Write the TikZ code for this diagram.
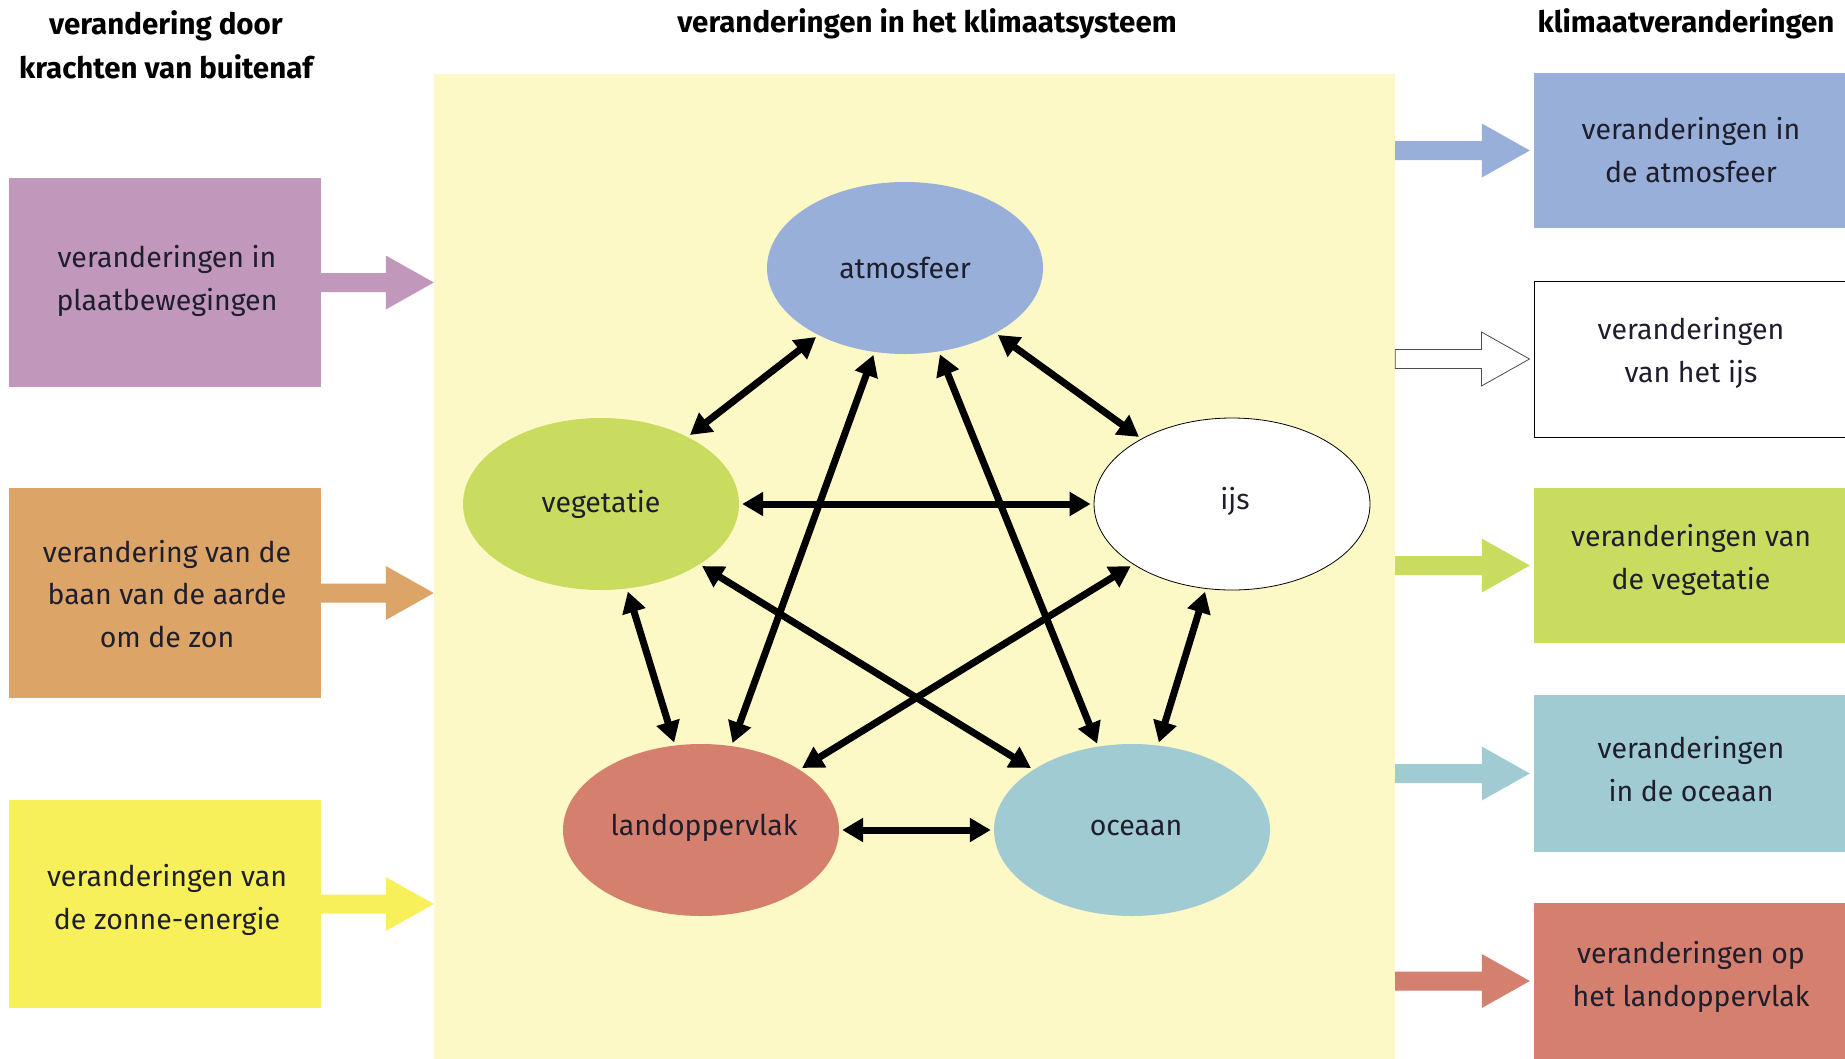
\documentclass[tikz,border=0pt]{standalone}
\usepackage{fontspec}
\setmainfont{Fira Sans}
\usetikzlibrary{shapes.geometric,arrows.meta,calc}
\definecolor{bgsys}{HTML}{FCF9C7}
\definecolor{cpurp}{HTML}{C297BC}
\definecolor{corange}{HTML}{DDA468}
\definecolor{cyellow}{HTML}{F8F05A}
\definecolor{cblue}{HTML}{97AFD9}
\definecolor{cgreen}{HTML}{C9DC5F}
\definecolor{cocean}{HTML}{A1CBD2}
\definecolor{cland}{HTML}{D5806F}
\definecolor{ctext}{HTML}{1E1E2C}
\tikzset{
  title/.style={font=\fontsize{29.5}{43.5}\selectfont\bfseries, text=black, align=center, inner sep=0pt},
  body/.style={font=\fontsize{28.5}{42.5}\selectfont, text=ctext, align=center, inner sep=0pt},
  box/.style={rectangle, draw=none, inner sep=0pt, minimum width=312pt},
  rbox/.style={rectangle, draw=none, inner sep=0pt, minimum width=312pt},
  comp/.style={ellipse, draw=none, inner sep=0pt, minimum width=276pt, minimum height=172pt},
  link/.style={line width=7pt, {Triangle[length=21pt,width=23pt]}-{Triangle[length=21pt,width=23pt]}, shorten <=3pt, shorten >=3pt},
}
\newcommand\fatarr[3]{%
  \path[#1] let \p1=(#2), \p2=(#3) in
    (\x1,\y1+9.5pt) -- (\x2-48pt,\y1+9.5pt) -- (\x2-48pt,\y1+27pt) -- (\x2,\y1)
    -- (\x2-48pt,\y1-27pt) -- (\x2-48pt,\y1-9.5pt) -- (\x1,\y1-9.5pt) -- cycle;}
\begin{document}
\begin{tikzpicture}[x=1pt,y=-1pt]
\useasboundingbox[fill=white] (0,0) rectangle (1845,1058);
% system background
\node[rectangle, fill=bgsys, inner sep=0pt, minimum width=961pt, minimum height=990pt] (sys) at (914.5,569) {};
% titles
\node[title] (t1) at (166,45) {verandering door\\krachten van buitenaf};
\node[title] (t2) at (927,24) {veranderingen in het klimaatsysteem};
\node[title] (t3) at (1686,24) {klimaatveranderingen};
% left boxes
\node[box, fill=cpurp, minimum height=209pt] (plaat) at (165,282.5) {};
\node[box, fill=corange, minimum height=210pt] (baan) at (165,593) {};
\node[box, fill=cyellow, minimum height=208pt] (zon) at (165,904) {};
\node[body] (plaatT) at (167,281) {veranderingen in\\plaatbewegingen};
\node[body] (baanT) at (167,594) {verandering van de\\baan van de aarde\\om de zon};
\node[body] (zonT) at (167,900) {veranderingen van\\de zonne-energie};
% right boxes
\node[rbox, fill=cblue, minimum height=155pt] (ratm) at (1690,150.5) {};
\node[rbox, fill=white, draw=black, line width=1pt, minimum height=156pt] (rijs) at (1690,359) {};
\node[rbox, fill=cgreen, minimum height=155pt] (rveg) at (1690,565.5) {};
\node[rbox, fill=cocean, minimum height=157pt] (roce) at (1690,773.5) {};
\node[rbox, fill=cland, minimum height=156pt] (rland) at (1690,981) {};
\node[body] (ratmT) at (1691,150) {veranderingen in\\de atmosfeer};
\node[body] (rijsT) at (1691,353) {veranderingen\\van het ijs};
\node[body] (rvegT) at (1691,560) {veranderingen van\\de vegetatie};
\node[body] (roceT) at (1691,769) {veranderingen\\in de oceaan};
\node[body] (rlandT) at (1691,977) {veranderingen op\\het landoppervlak};
% left fat arrows
\fatarr{fill=cpurp}{plaat.east}{plaat.east -| sys.west}
\fatarr{fill=corange}{baan.east}{baan.east -| sys.west}
\fatarr{fill=cyellow}{zon.east}{zon.east -| sys.west}
% right fat arrows
\fatarr{fill=cblue}{ratm.west -| sys.east}{$(ratm.west)+(-4,0)$}
\fatarr{fill=white, draw=black!70, line width=0.8pt}{rijs.west -| sys.east}{$(rijs.west)+(-4,0)$}
\fatarr{fill=cgreen}{rveg.west -| sys.east}{$(rveg.west)+(-4,0)$}
\fatarr{fill=cocean}{roce.west -| sys.east}{$(roce.west)+(-4,0)$}
\fatarr{fill=cland}{rland.west -| sys.east}{$(rland.west)+(-4,0)$}
% components
\node[comp, fill=cblue] (atm) at (905,268) {};
\node[comp, fill=cgreen] (veg) at (601,504) {};
\node[comp, fill=white, draw=black, line width=0.8pt] (ijs) at (1232,504) {};
\node[comp, fill=cland] (land) at (701,830) {};
\node[comp, fill=cocean] (oce) at (1132,830) {};
\node[body] (atmT) at (905,268) {atmosfeer};
\node[body] (vegT) at (601,504) {vegetatie};
\node[body] (ijsT) at (1235,501) {ijs};
\node[body] (landT) at (704,828) {landoppervlak};
\node[body] (oceT) at (1136,828) {oceaan};
% links
\draw[link] (veg) -- (atm);
\draw[link] (atm) -- (ijs);
\draw[link] (veg) -- (ijs);
\draw[link] (land) -- (atm);
\draw[link] (oce) -- (atm);
\draw[link] (veg) -- (land);
\draw[link] (veg) -- (oce);
\draw[link] (land) -- (ijs);
\draw[link] (ijs) -- (oce);
\draw[link] (land) -- (oce);
\end{tikzpicture}
\end{document}
